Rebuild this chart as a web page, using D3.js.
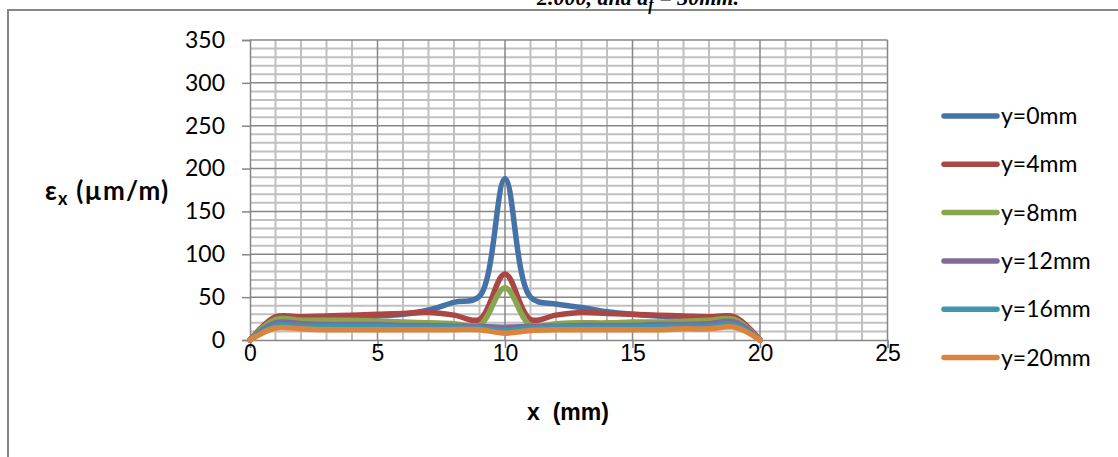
<!DOCTYPE html>
<html>
<head>
<meta charset="utf-8">
<script src="https://cdn.jsdelivr.net/npm/d3@7"></script>
<style>
  html, body { margin: 0; padding: 0; background: #fff; }
  svg { display: block; }
</style>
</head>
<body>
<svg id="chart" width="1118" height="457"></svg>
<script>
// ---- data ----
const xValues = [0,1,2,3,4,5,6,7,8,9,10,11,12,13,14,15,16,17,18,19,20];
const seriesNames = ["y=0mm","y=4mm","y=8mm","y=12mm","y=16mm","y=20mm"];
const y0mm  = [0,25,25,26,27,28,30,35,44,51,188,50,42,38,33,30,28,27,26,26,0];
const y4mm  = [0,27,27,28,29,30,31,32,29,24,77,24,29,32,31,30,29,28,27,27,0];
const y8mm  = [0,24,23,23,23,22,21,20,19,17,61,17,19,20,20,21,21,22,23,24,0];
const y12mm = [0,20,19,18,18,18,17,17,16,16,15,16,16,17,17,17,18,18,19,21,0];
const y16mm = [0,17,16,16,16,16,15,15,15,14,11,14,15,15,15,15,16,16,16,18,0];
const y20mm = [0,14,13,12,12,12,12,12,12,12,8,11,12,12,12,12,12,13,13,15,0];
const seriesValues = [y0mm, y4mm, y8mm, y12mm, y16mm, y20mm];
const xTicks = [0,5,10,15,20,25];
const yTicks = [0,50,100,150,200,250,300,350];
const colors = ["#4572A7","#AA4643","#89A54E","#80699B","#3D96AE","#DB843D"];

// ---- layout ----
const svg = d3.select("#chart");
const pL = 250, pR = 887.5, pT = 40, pB = 340;
const x = d3.scaleLinear().domain([0,25]).range([pL,pR]);
const y = d3.scaleLinear().domain([0,350]).range([pB,pT]);

// outer border (cut off at right and bottom)
svg.append("rect").attr("x",8).attr("y",10).attr("width",1200).attr("height",600)
  .attr("fill","none").attr("stroke","#868686").attr("stroke-width",2);

// top title fragment (cut off at the top edge as in the reference)
const t = svg.append("text").attr("x",638).attr("y",5).attr("text-anchor","middle")
  .attr("font-family","'Liberation Serif', serif").attr("font-weight","bold")
  .attr("font-style","italic").attr("font-size",22).attr("fill","#000");
t.append("tspan").text("2.000, and a");
t.append("tspan").attr("dy",5).attr("font-size",16).text("f");
t.append("tspan").attr("dy",-5).text(" = 30mm.");

// grid
const g = svg.append("g");
const minorX = d3.range(0,26,1).filter(v => v % 5 !== 0);
const minorY = d3.range(0,351,10).filter(v => v % 50 !== 0);
g.selectAll(".mx").data(minorX).enter().append("line")
  .attr("x1",d=>x(d)).attr("x2",d=>x(d)).attr("y1",pT).attr("y2",pB)
  .attr("stroke","#c0c0c0").attr("stroke-width",2);
g.selectAll(".my").data(minorY).enter().append("line")
  .attr("x1",pL).attr("x2",pR).attr("y1",d=>y(d)).attr("y2",d=>y(d))
  .attr("stroke","#c0c0c0").attr("stroke-width",2);
g.selectAll(".Mx").data(xTicks.filter(v=>v>0)).enter().append("line")
  .attr("x1",d=>x(d)).attr("x2",d=>x(d)).attr("y1",pT).attr("y2",pB)
  .attr("stroke","#878787").attr("stroke-width",1.5);
g.selectAll(".My").data(yTicks.filter(v=>v>0)).enter().append("line")
  .attr("x1",pL).attr("x2",pR).attr("y1",d=>y(d)).attr("y2",d=>y(d))
  .attr("stroke","#878787").attr("stroke-width",1.5);

// axes
const yAxis = d3.axisLeft(y).tickValues(yTicks).tickSize(8).tickPadding(6);
const yg = svg.append("g").attr("transform",`translate(${pL},0)`).call(yAxis);
yg.select(".domain").attr("stroke","#878787").attr("stroke-width",1.5);
yg.selectAll(".tick line").attr("stroke","#878787").attr("stroke-width",1.5);
yg.selectAll(".tick text").attr("font-family","Lato, 'Open Sans', sans-serif")
  .attr("font-size",23).attr("fill","#000").attr("x",-25);

const xAxis = d3.axisBottom(x).tickValues(xTicks).tickSize(8).tickPadding(6);
const xg = svg.append("g").attr("transform",`translate(0,${pB})`).call(xAxis);
xg.select(".domain").attr("stroke","#878787").attr("stroke-width",1.5);
xg.selectAll(".tick line").attr("stroke","#878787").attr("stroke-width",1.5);
xg.selectAll(".tick text").attr("font-family","'Liberation Sans Narrow', 'Liberation Sans', Arial, sans-serif")
  .attr("font-size",23).attr("fill","#000").attr("dy","0").attr("y",20.5);

// axis titles
svg.append("text").attr("x",568).attr("y",420).attr("text-anchor","middle")
  .attr("font-family","'Liberation Sans Narrow', 'Liberation Sans', Arial, sans-serif")
  .attr("font-weight","bold").attr("font-size",23).attr("fill","#000")
  .attr("xml:space","preserve").text("x  (mm)");

const yt = svg.append("text").attr("x",45).attr("y",200)
  .attr("font-family","Lato, 'Open Sans', sans-serif")
  .attr("font-weight","bold").attr("font-size",26).attr("letter-spacing",1.2).attr("fill","#000");
yt.append("tspan").text("ε");
yt.append("tspan").attr("dy",5).attr("font-size",18).text("x");
yt.append("tspan").attr("dy",-5).text(" (µm/m)");

// lines
const line = d3.line().x((d,i)=>x(xValues[i])).y(d=>y(d)).curve(d3.curveCatmullRom.alpha(0.5));
const plot = svg.append("g");
seriesValues.forEach((vals,i) => {
  plot.append("path").datum(vals).attr("d",line)
    .attr("fill","none").attr("stroke",colors[i]).attr("stroke-width",5.5)
    .attr("stroke-linejoin","round").attr("stroke-linecap","round");
});

// legend
const leg = svg.append("g");
seriesNames.forEach((name,i) => {
  const ly = 116 + i*48.3;
  leg.append("line").attr("x1",944).attr("x2",997).attr("y1",ly).attr("y2",ly)
    .attr("stroke",colors[i]).attr("stroke-width",5.5).attr("stroke-linecap","round");
  leg.append("text").attr("x",1001).attr("y",ly+8)
    .attr("font-family","Lato, 'Open Sans', sans-serif").attr("font-size",23)
    .attr("fill","#000").text(name);
});
</script>
</body>
</html>
